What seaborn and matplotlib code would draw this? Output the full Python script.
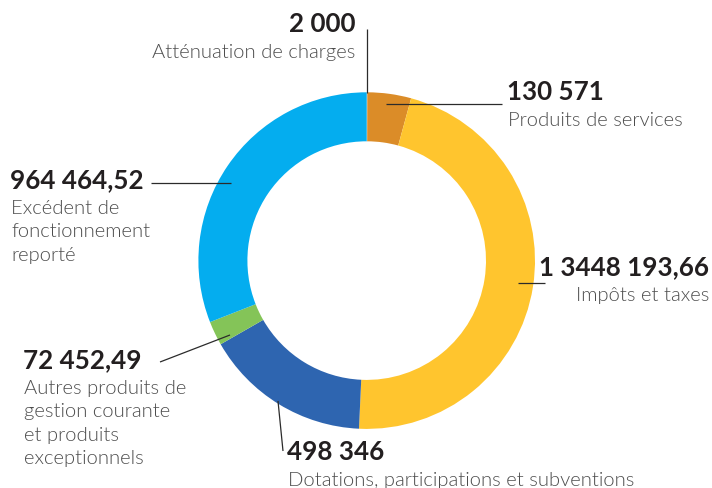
import matplotlib.pyplot as plt
from matplotlib import font_manager
import seaborn as sns

# data
categories = [
    "Atténuation de charges",
    "Produits de services",
    "Impôts et taxes",
    "Dotations, participations et subventions",
    "Autres produits de\ngestion courante\net produits\nexceptionnels",
    "Excédent de\nfonctionnement\nreporté",
]
values = [2000, 130571, 1448193.66, 498346, 72452.49, 964464.52]
value_labels = ["2 000", "130 571", "1 3448 193,66", "498 346", "72 452,49", "964 464,52"]
colors = ["#9a9a9a", "#db8c28", "#ffc52e", "#2e65b0", "#84c458", "#04adef"]

W, H = 712, 489

# label layout in pixel coords (x, baseline y, ha)
label_pos = [
    (355, 32, "right"),
    (507, 100, "left"),
    (709, 275, "right"),
    (287, 460, "left"),
    (23, 368, "left"),
    (10, 188, "left"),
]
leaders = [
    ((367, 30), (367, 94)),
    ((386, 105), (502, 105)),
    ((518, 284), (545, 284)),
    ((278, 402), (283, 452)),
    ((160, 363), (230, 336)),
    ((151, 184), (231, 184)),
]

sns.set_theme(style="white")
plt.rcParams["font.family"] = ["Lato", "DejaVu Sans"]

# look for Lato Light file, else fall back to regular weight
light = None
for f in font_manager.findSystemFonts():
    if f.split("/")[-1].lower() in ("lato-light.ttf", "lato-light.otf"):
        light = font_manager.FontProperties(fname=f, size=14.6)
        break
if light is None:
    light = font_manager.FontProperties(family="Lato", weight="normal", size=14.6)

fig = plt.figure(figsize=(W / 100, H / 100), dpi=100)
ax = fig.add_axes([0, 0, 1, 1])

cx, cy, r_out, ring = 366.7, H - 261.6, 168.3, 49
ax.pie(values, colors=colors, startangle=90, counterclock=False,
       center=(cx, cy), radius=r_out,
       wedgeprops=dict(width=ring, linewidth=0))
ax.set_xlim(0, W)
ax.set_ylim(0, H)
ax.set_aspect("equal")
ax.axis("off")

for (p0, p1) in leaders:
    ax.plot([p0[0], p1[0]], [H - p0[1], H - p1[1]], color="#2b2b2b", lw=0.9,
            solid_capstyle="butt")

line_gap = 23.5
for (x, y, ha), num, cat in zip(label_pos, value_labels, categories):
    ax.text(x, H - y, num, ha=ha, va="baseline", fontsize=18.7,
            fontweight="bold", color="#231f20")
    for i, line in enumerate(cat.split("\n")):
        ax.text(x + (1 if ha == "left" else 0), H - (y + 26 + i * line_gap), line,
                ha=ha, va="baseline", fontproperties=light, color="#4d4d4d")

fig.savefig("out.png", dpi=100)
